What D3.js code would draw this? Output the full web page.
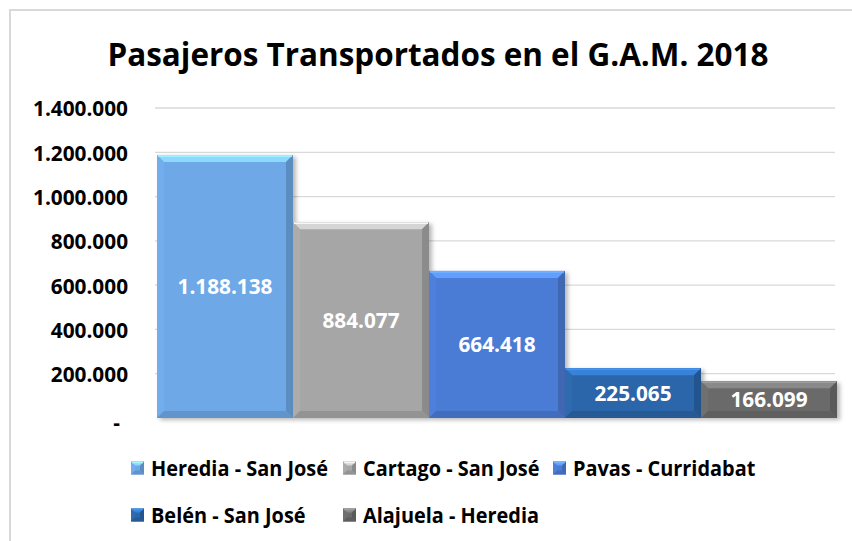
<!DOCTYPE html>
<html>
<head>
<meta charset="utf-8">
<script src="https://cdn.jsdelivr.net/npm/d3@7"></script>
<style>
  body { margin: 0; background: #fff; }
  svg { display: block; font-family: "Open Sans", Lato, sans-serif; }
</style>
</head>
<body>
<svg id="chart" width="852" height="541"></svg>
<script>
`use strict`;

const titleText = `Pasajeros Transportados en el G.A.M. 2018`;
const routes = [`Heredia - San José`, `Cartago - San José`, `Pavas - Curridabat`, `Belén - San José`, `Alajuela - Heredia`];
const passengers = [1188138, 884077, 664418, 225065, 166099];
const yTicks = [0, 200000, 400000, 600000, 800000, 1000000, 1200000, 1400000];
const barColors = [`#6ea8e6`, `#a6a6a6`, `#4c7bd5`, `#2b66a9`, `#6b6b6b`];

(function () {

  const svg = d3.select(`#chart`);

  const fmt = v => v === 0 ? `-` : d3.format(`,`)(v).replace(/,/g, `.`);

  // squeeze a group of texts so the reference one is `width` px wide (narrow Calibri look)
  const squeeze = (sel, ref, width) => {
    let k = width / ref.node().getComputedTextLength();
    sel.each(function () {
      let w = this.getComputedTextLength();
      d3.select(this)
        .attr(`textLength`, (w * k).toFixed(1))
        .attr(`lengthAdjust`, `spacingAndGlyphs`);
    });
  };

  // chart frame
  svg.append(`path`)
    .attr(`d`, `M10,541 V10 H852`)
    .attr(`fill`, `none`)
    .attr(`stroke`, `#d9d9d9`)
    .attr(`stroke-width`, 2);

  let defs = svg.append(`defs`);
  let shadow = defs.append(`filter`).attr(`id`, `shd`)
    .attr(`x`, `-10%`).attr(`y`, `-10%`).attr(`width`, `130%`).attr(`height`, `130%`);
  shadow.append(`feDropShadow`)
    .attr(`dx`, 3).attr(`dy`, 2)
    .attr(`stdDeviation`, 2)
    .attr(`flood-color`, `#000`)
    .attr(`flood-opacity`, 0.28);

  // title
  let title = svg.append(`text`)
    .attr(`x`, 438)
    .attr(`y`, 66)
    .attr(`text-anchor`, `middle`)
    .attr(`font-weight`, `bold`)
    .attr(`font-size`, 32)
    .attr(`fill`, `#000`)
    .text(titleText);
  squeeze(title, title, 661);

  const x = d3.scaleBand().domain(routes).range([157, 837]).padding(0);
  const y = d3.scaleLinear().domain([0, 1400000]).range([418, 108]);

  // gridlines
  svg.append(`g`).selectAll(`line`).data(yTicks.slice(1))
    .enter()
    .append(`line`)
    .attr(`x1`, 155)
    .attr(`x2`, 835)
    .attr(`y1`, d => y(d))
    .attr(`y2`, d => y(d))
    .attr(`stroke`, `#d9d9d9`)
    .attr(`stroke-width`, 1.3);

  // axis labels
  let yAxis = svg.append(`g`)
    .attr(`transform`, `translate(128,0)`)
    .call(d3.axisLeft(y).tickValues(yTicks).tickFormat(fmt).tickSize(0).tickPadding(0));
  yAxis.select(`.domain`).remove();
  let ticks = yAxis.selectAll(`text`)
    .attr(`font-family`, `"Open Sans", Lato, sans-serif`)
    .attr(`font-weight`, `bold`)
    .attr(`font-size`, 22)
    .attr(`fill`, `#000`)
    .attr(`dy`, `0.36em`);
  squeeze(ticks, ticks.filter(d => d === 1400000), 95);
  ticks.filter(d => d === 0).attr(`x`, -8).attr(`dy`, `0.5em`);

  // bevelled bars
  const bevel = (g, x0, y0, w, h, col, b) => {
    let c = d3.color(col);
    let x1 = x0 + w, y1 = y0 + h;
    b = Math.min(b, h / 2, w / 2);
    g.append(`rect`).attr(`x`, x0).attr(`y`, y0).attr(`width`, w).attr(`height`, h).attr(`fill`, col);
    g.append(`polygon`)
      .attr(`points`, [[x0, y0], [x1, y0], [x1 - b, y0 + b], [x0 + b, y0 + b]].join(` `))
      .attr(`fill`, c.brighter(0.7));
    g.append(`polygon`)
      .attr(`points`, [[x0, y0], [x0 + b, y0 + b], [x0 + b, y1 - b], [x0, y1]].join(` `))
      .attr(`fill`, c.brighter(0.1));
    g.append(`polygon`)
      .attr(`points`, [[x1, y0], [x1 - b, y0 + b], [x1 - b, y1 - b], [x1, y1]].join(` `))
      .attr(`fill`, c.darker(0.5));
    g.append(`polygon`)
      .attr(`points`, [[x0, y1], [x0 + b, y1 - b], [x1 - b, y1 - b], [x1, y1]].join(` `))
      .attr(`fill`, c.darker(0.35));
    g.append(`line`)
      .attr(`x1`, x0 + 1).attr(`x2`, x1 - 1).attr(`y1`, y0 + 1).attr(`y2`, y0 + 1)
      .attr(`stroke`, c.brighter(1.1)).attr(`stroke-width`, 1.5);
  };

  let bars = svg.append(`g`).selectAll(`g.bar`).data(routes)
    .enter()
    .append(`g`)
    .attr(`class`, `bar`)
    .attr(`filter`, `url(#shd)`);

  bars.each(function (d, i) {
    bevel(d3.select(this), x(d), y(passengers[i]), x.bandwidth(), y(0) - y(passengers[i]), barColors[i], 7);
  });

  // value labels
  let vals = svg.append(`g`).selectAll(`text`).data(routes)
    .enter()
    .append(`text`)
    .attr(`x`, d => x(d) + x.bandwidth() / 2)
    .attr(`y`, (d, i) => (y(passengers[i]) + y(0)) / 2)
    .attr(`dy`, `0.36em`)
    .attr(`text-anchor`, `middle`)
    .attr(`font-weight`, `bold`)
    .attr(`font-size`, 21)
    .attr(`fill`, `#fff`)
    .text((d, i) => fmt(passengers[i]));
  squeeze(vals, vals.filter((d, i) => i === 0), 95);

  // legend
  const legendPos = [[131, 468], [343, 468], [553, 468], [131, 515], [343, 515]];

  let legend = svg.append(`g`).selectAll(`g`).data(routes)
    .enter()
    .append(`g`)
    .attr(`transform`, (d, i) => `translate(${legendPos[i][0]},${legendPos[i][1]})`);

  legend.each(function (d, i) {
    bevel(d3.select(this), 0, -6.5, 13, 13, barColors[i], 4);
  });

  let ltxt = legend.append(`text`)
    .attr(`x`, 20)
    .attr(`dy`, `0.36em`)
    .attr(`font-weight`, `bold`)
    .attr(`font-size`, 22)
    .attr(`fill`, `#000`)
    .text(d => d);
  squeeze(ltxt, ltxt.filter((d, i) => i === 0), 177);

})();
</script>
</body>
</html>
